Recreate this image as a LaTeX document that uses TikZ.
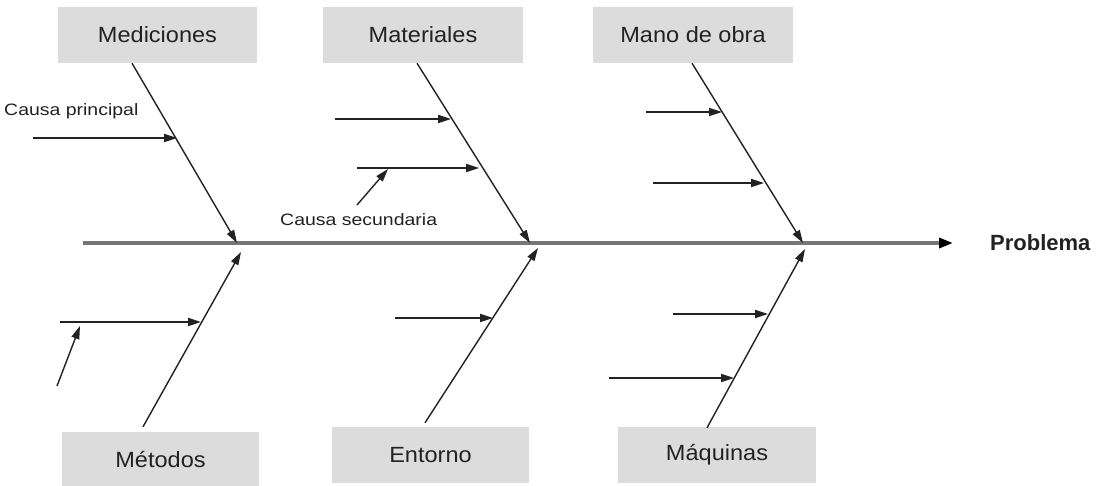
\documentclass[tikz,border=0pt]{standalone}
\usepackage{fontspec}
\setmainfont{Liberation Sans}
\usepackage{graphicx}
\usetikzlibrary{arrows.meta,calc}
\definecolor{boxgray}{RGB}{220,220,220}
\definecolor{spinegray}{RGB}{118,118,118}
\definecolor{inkdark}{RGB}{34,34,34}
\begin{document}
\begin{tikzpicture}[x=1pt,y=-1pt,
  catbox/.style={fill=boxgray, draw=none, minimum width=199pt, minimum height=56pt, inner sep=0pt, text=inkdark, font=\fontsize{22}{26}\selectfont},
  bone/.style={draw=inkdark, line width=1.4pt, -{Triangle[length=13pt,width=8pt]}},
  cause/.style={draw=inkdark, line width=1.9pt, -{Triangle[length=13pt,width=8pt]}},
  spineline/.style={draw=spinegray, line width=3.3pt, -{Triangle[length=14pt,width=10pt,color=black]}},
  note/.style={font=\fontsize{16.5}{18}\selectfont, text=inkdark, inner sep=0pt, anchor=west},
]
\useasboundingbox (0,0) rectangle (1102,485);
\fill[white] (0,0) rectangle (1102,485);

% category boxes
\node[catbox] (med) at (157.5,35) {\scalebox{1.07}[1]{Mediciones}};
\node[catbox, minimum width=200pt] (mat) at (423,35) {\scalebox{1.07}[1]{Materiales}};
\node[catbox, minimum width=200pt] (man) at (693,35) {\scalebox{1.07}[1]{Mano de obra}};
\node[catbox, minimum width=197pt, minimum height=54pt] (met) at (160.5,459) {\scalebox{1.07}[1]{Métodos}};
\node[catbox, minimum width=197pt] (ent) at (430.5,455) {\scalebox{1.07}[1]{Entorno}};
\node[catbox, minimum width=198pt] (maq) at (717,455) {\scalebox{1.07}[1]{Máquinas}};

% problem
\node[anchor=west, inner sep=0pt, text=inkdark, font=\bfseries\fontsize{22}{26}\selectfont] (prob) at (990,243) {Problema};

% spine
\coordinate (spS) at (83,243);
\coordinate (spE) at (953,243);
\draw[spineline] (spS) -- (spE);

% junctions
\coordinate (j1) at (237,243);
\coordinate (j2) at (530,243);
\coordinate (j3) at (803,243);
\coordinate (k1) at (241,252);
\coordinate (k2) at (538,248);
\coordinate (k3) at (805,249);

% main bones
\draw[bone] ([xshift=-25.5pt]med.south) -- (j1);
\draw[bone] ([xshift=-6pt]mat.south) -- (j2);
\draw[bone] ([xshift=-1pt]man.south) -- (j3);
\draw[bone] ([xshift=-17.5pt,yshift=5pt]met.north) -- (k1);
\draw[bone] ([xshift=-5.5pt,yshift=4pt]ent.north) -- (k2);
\draw[bone] ([xshift=-10pt,yshift=-1pt]maq.north) -- (k3);

% labels
\node[note] (cp) at (4,111) {\scalebox{1.18}[1]{Causa principal}};
\node[note] (cs) at (280,220) {\scalebox{1.18}[1]{Causa secundaria}};

% cause arrows
\coordinate (a1s) at (33,138);  \coordinate (a1e) at (177,138);
\coordinate (b1s) at (335,119); \coordinate (b1e) at (451,119);
\coordinate (b2s) at (357,168); \coordinate (b2e) at (479,168);
\coordinate (c1s) at (646,112); \coordinate (c1e) at (722,112);
\coordinate (c2s) at (653,183); \coordinate (c2e) at (764,183);
\coordinate (d1s) at (60,322);  \coordinate (d1e) at (201,322);
\coordinate (e1s) at (395,318); \coordinate (e1e) at (493,318);
\coordinate (f1s) at (673,314); \coordinate (f1e) at (768,314);
\coordinate (f2s) at (609,378); \coordinate (f2e) at (734,378);
\draw[cause] (a1s) -- (a1e);
\draw[cause] (b1s) -- (b1e);
\draw[cause] (b2s) -- (b2e);
\draw[cause] (c1s) -- (c1e);
\draw[cause] (c2s) -- (c2e);
\draw[cause] (d1s) -- (d1e);
\draw[cause] (e1s) -- (e1e);
\draw[cause] (f1s) -- (f1e);
\draw[cause] (f2s) -- (f2e);

% secondary pointers
\coordinate (p1s) at (357,205); \coordinate (p1e) at (388,169);
\coordinate (p2s) at (57,386);  \coordinate (p2e) at (80,326);
\draw[bone] (p1s) -- (p1e);
\draw[bone] (p2s) -- (p2e);
\end{tikzpicture}
\end{document}
